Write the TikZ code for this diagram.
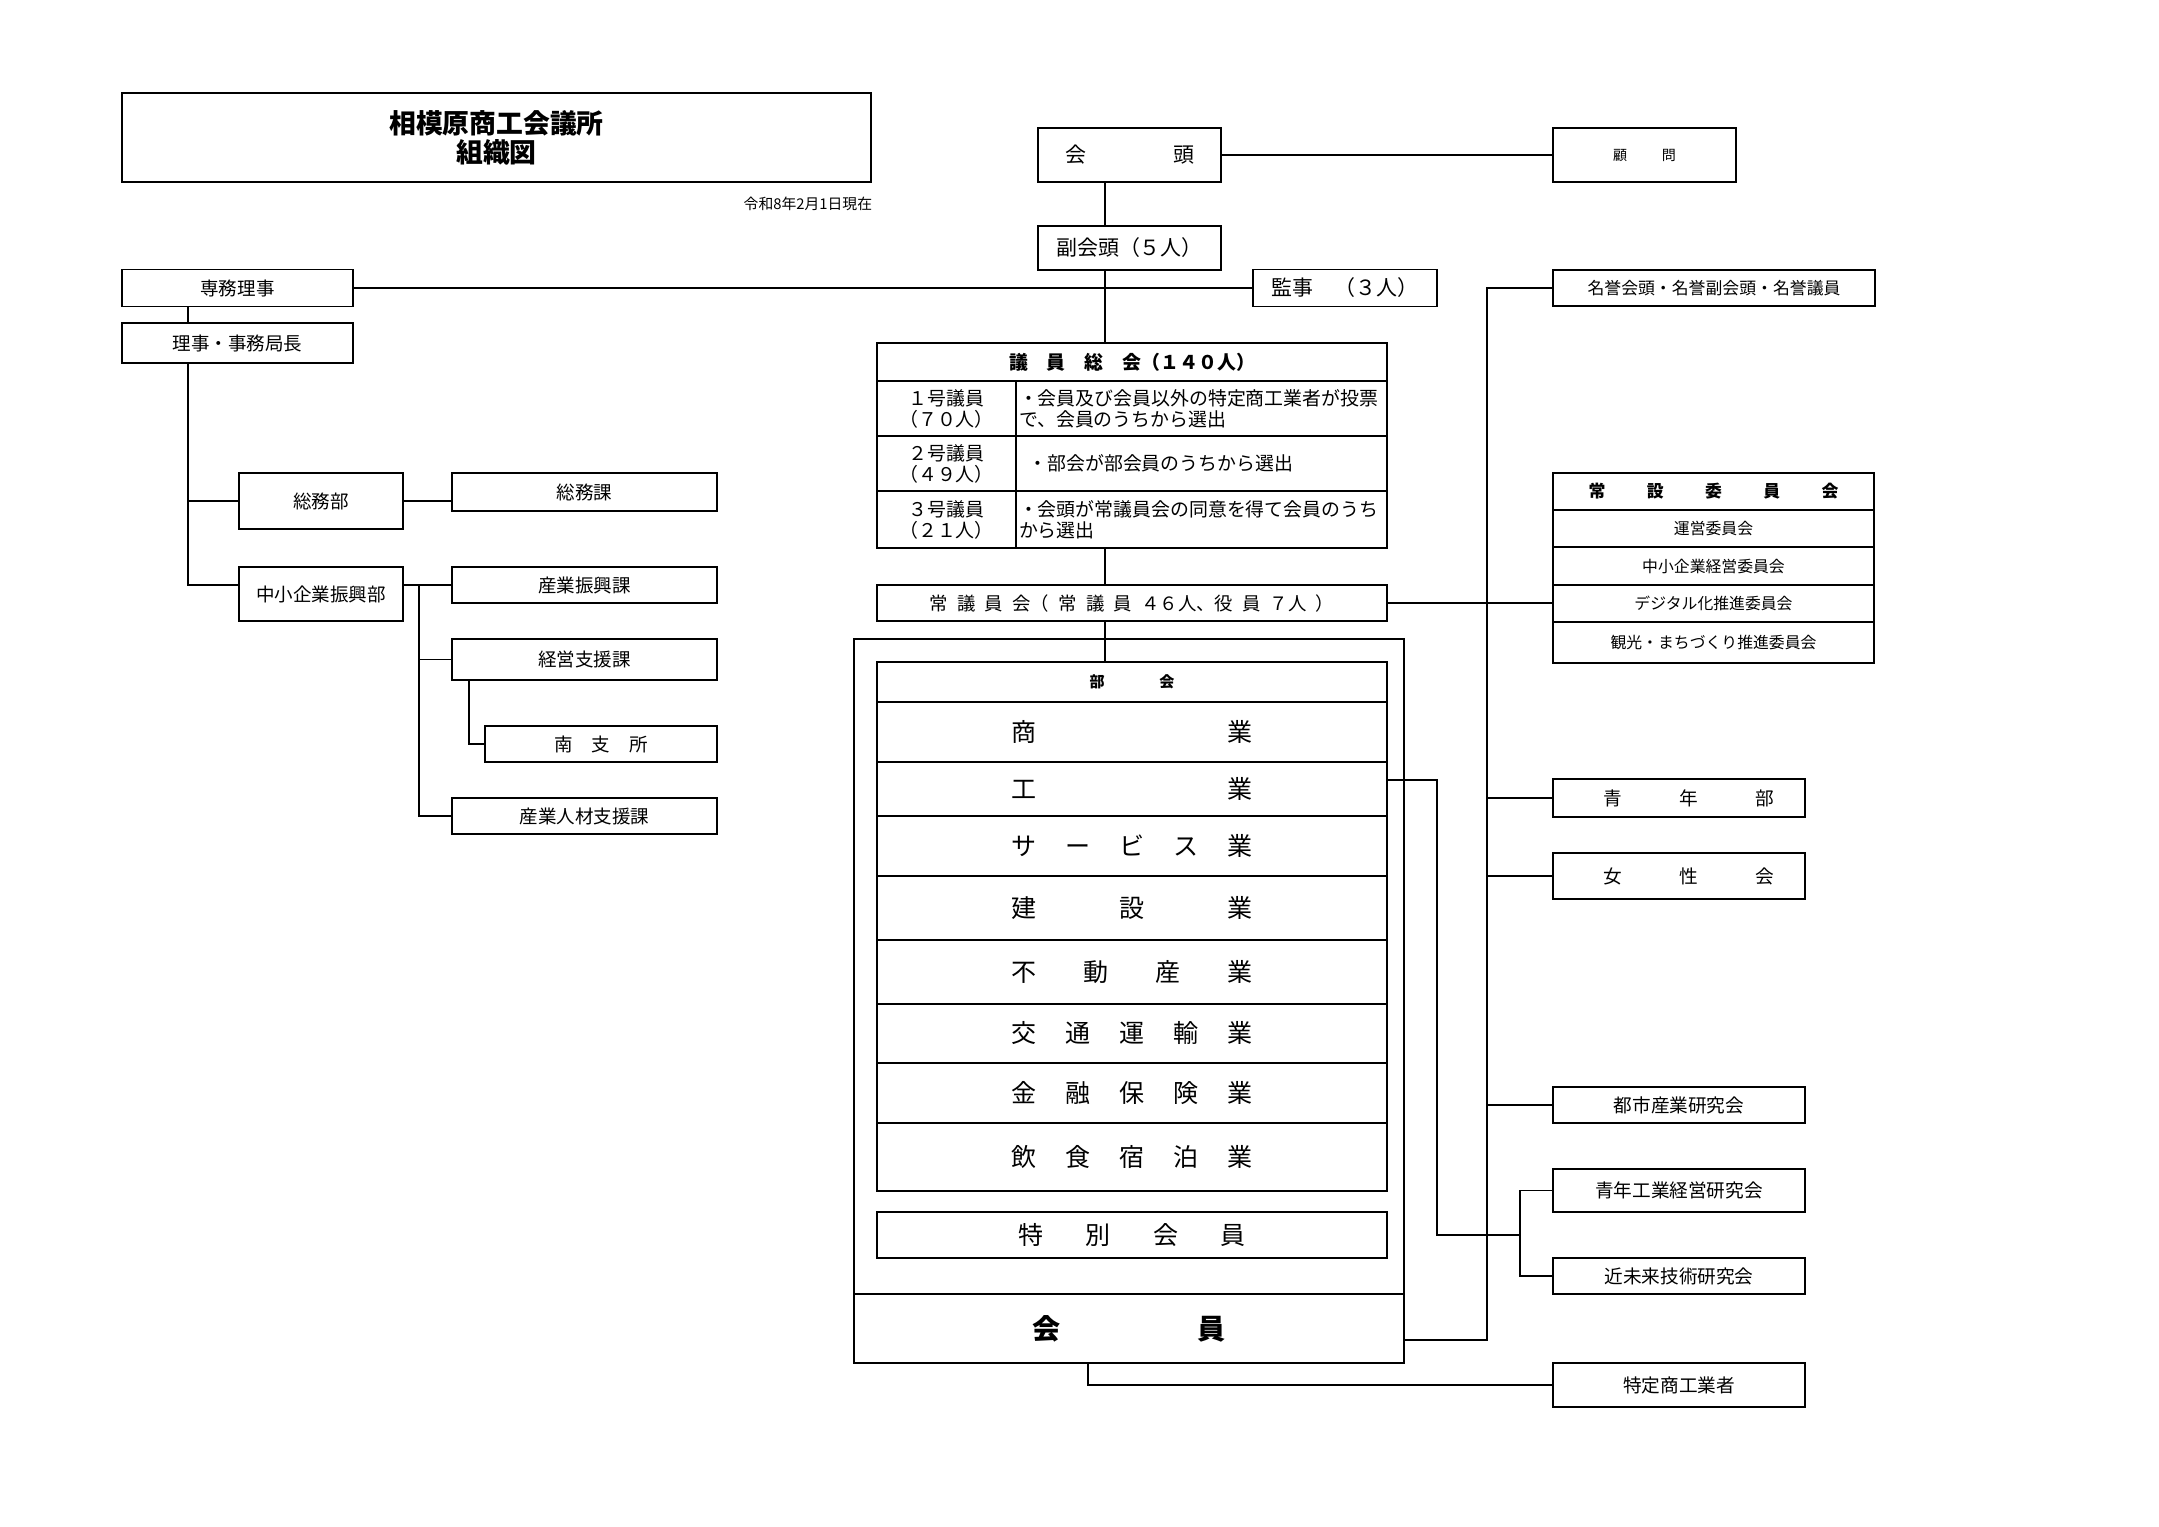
\documentclass[tikz,border=0pt]{standalone}
\usepackage{fontspec}
\setmainfont{Noto Sans CJK JP}
\newlength\unitpx
\setlength\unitpx{0.137564mm}
\newcommand\spreadtext[2]{\makebox[#1\unitpx][s]{#2}}
\newcommand\jsp{\hspace{.5em}}
\begin{document}
\begin{tikzpicture}[x=0.137564mm, y=-0.137564mm, line width=0.7pt,
    box/.style={draw, inner sep=0pt, outer sep=0pt},
    wh/.style 2 args={minimum width=#1*\unitpx, minimum height=#2*\unitpx},
    fs/.style 2 args={font=\fontsize{#1}{#2}\selectfont},
    fsb/.style 2 args={font=\fontsize{#1}{#2}\selectfont\bfseries}]
  \fill[white] (0,0) rectangle (2159,1526);

  % title
  \node[box, line width=1.1pt, wh={749}{89}, fsb={10.5}{11.3}, align=center] (title) at (496.5,137.5) {相模原商工会議所\\組織図};
  \node[fs={5.8}{7}, anchor=east, inner sep=0pt] (date) at (873,204) {令和8年2月1日現在};

  % office
  \node[box, wh={231}{37}, fs={7.25}{9}] (semu) at (237.5,288) {専務理事};
  \node[box, wh={231}{40}, fs={7.25}{9}] (riji) at (237.5,343) {理事・事務局長};
  \node[box, wh={164}{56}, fs={7.25}{9}] (somubu) at (321,501) {総務部};
  \node[box, wh={164}{54}, fs={7.25}{9}] (shinkobu) at (321,594) {中小企業振興部};
  \node[box, wh={265}{38}, fs={7.25}{9}] (somuka) at (584.5,492) {総務課};
  \node[box, wh={265}{36}, fs={7.25}{9}] (sangyo) at (584.5,585) {産業振興課};
  \node[box, wh={265}{41}, fs={7.25}{9}] (keiei) at (584.5,659.5) {経営支援課};
  \node[box, wh={232}{36}, fs={7.25}{9}] (minami) at (601,744) {\spreadtext{94}{南\hfill 支\hfill 所}};
  \node[box, wh={265}{36}, fs={7.25}{9}] (jinzai) at (584.5,816) {産業人材支援課};
  \coordinate (spine) at (188,0);
  \coordinate (branch) at (419,0);
  \coordinate (twig) at (469,0);
  \draw (semu.south -| spine) -- (riji.north -| spine) (riji.south -| spine) |- (shinkobu.west |- sangyo.west) (spine |- somubu.west) -- (somubu.west);
  \draw (somubu.east) -- (somubu.east -| somuka.west);
  \draw (shinkobu.east |- sangyo.west) -- (sangyo.west) (branch |- sangyo.west) |- (jinzai.west) (branch |- keiei.west) -- (keiei.west) (keiei.south -| twig) |- (minami.west);

  % officers
  \node[box, wh={183}{54}, fs={8.2}{10}] (kaito) at (1129.5,155) {\spreadtext{129}{会\hfill 頭}};
  \node[box, wh={183}{54}, fs={5.5}{7}] (komon) at (1644.5,155) {\spreadtext{63}{顧\hfill 問}};
  \node[box, wh={183}{44}, fs={8.2}{10}] (fuku) at (1129.5,248) {副会頭（５人）};
  \node[box, wh={184}{37}, fs={8.2}{10}] (kanji) at (1345,288) {監事　（３人）};
  \node[box, wh={322}{36}, fs={6.6}{8}] (meiyo) at (1714,288) {名誉会頭・名誉副会頭・名誉議員};

  % giin
  \node[box, wh={510}{38}, fsb={7.4}{9}] (giin) at (1132,362) {議　員　総　会（１４０人）};
  \node[box, wh={139}{55}, fs={7.4}{8.2}, align=center] (g1-l) at (946.5,408.5) {１号議員\\（７０人）};
  \node[box, wh={371}{55}, fs={7.4}{8.2}, text width=50.2mm, align=left] (g1-r) at (1201.5,408.5) {・会員及び会員以外の特定商工業者が投票\\で、会員のうちから選出};
  \node[box, wh={139}{55}, fs={7.4}{8.2}, align=center] (g2-l) at (946.5,463.5) {２号議員\\（４９人）};
  \node[box, wh={371}{55}, fs={7.4}{8.2}, text width=50.2mm, align=left] (g2-r) at (1201.5,463.5) {\hspace*{.5em}・部会が部会員のうちから選出};
  \node[box, wh={139}{57}, fs={7.4}{8.2}, align=center] (g3-l) at (946.5,519.5) {３号議員\\（２１人）};
  \node[box, wh={371}{57}, fs={7.4}{8.2}, text width=50.2mm, align=left] (g3-r) at (1201.5,519.5) {・会頭が常議員会の同意を得て会員のうち\\から選出};
  \node[box, wh={510}{36}, fs={7.2}{9}] (joseki) at (1132,603) {常\jsp 議\jsp 員\jsp 会（\jsp 常\jsp 議\jsp 員\jsp ４６人、役\jsp 員\jsp ７人\jsp ）};

  % members
  \node[box, wh={550}{724}] (frame) at (1129,1001) {};
  \node[box, wh={550}{69}, fsb={11}{13}] (kaiin) at (1129,1328.5) {\spreadtext{193}{会\hfill 員}};
  \node[box, wh={510}{40}, fsb={5.9}{7}] (bukai) at (1132,682) {\spreadtext{85}{部\hfill 会}};
  \foreach \nm/\ya/\yb/\txt in {shogyo/702/762/{商\hfill 業}, kogyo/762/816/{工\hfill 業},
      service/816/876/{サ\hfill ー\hfill ビ\hfill ス\hfill 業}, kensetsu/876/940/{建\hfill 設\hfill 業},
      fudosan/940/1004/{不\hfill 動\hfill 産\hfill 業}, kotsu/1004/1063/{交\hfill 通\hfill 運\hfill 輸\hfill 業},
      kinyu/1063/1123/{金\hfill 融\hfill 保\hfill 険\hfill 業}, inshoku/1123/1191/{飲\hfill 食\hfill 宿\hfill 泊\hfill 業}}
    \node[box, minimum width=510*\unitpx, minimum height={(\yb-\ya)*\unitpx}, fs={9.8}{11}] (\nm) at (1132,{(\ya+\yb)/2}) {\spreadtext{242}{\txt}};
  \node[box, wh={510}{46}, fs={9.8}{11}] (tokubetsu) at (1132,1235) {\spreadtext{227}{特\hfill 別\hfill 会\hfill 員}};

  % committees
  \node[box, wh={321}{37}, fsb={6.6}{8}] (joseti) at (1713.5,491.5) {\spreadtext{250}{常\hfill 設\hfill 委\hfill 員\hfill 会}};
  \foreach \nm/\ya/\yb/\txt in {unei/510/547/運営委員会, keieiiin/547/585/中小企業経営委員会,
      digital/585/622/デジタル化推進委員会, kanko/622/663/観光・まちづくり推進委員会}
    \node[box, minimum width=321*\unitpx, minimum height={(\yb-\ya)*\unitpx}, fs={6.2}{8}] (\nm) at (1713.5,{(\ya+\yb)/2}) {\txt};
  \node[box, wh={252}{38}, fs={7.3}{9}] (seinen) at (1679,798) {\hspace*{20\unitpx}\spreadtext{171}{青\hfill 年\hfill 部}};
  \node[box, wh={252}{46}, fs={7.3}{9}] (josei) at (1679,876) {\hspace*{20\unitpx}\spreadtext{171}{女\hfill 性\hfill 会}};
  \node[box, wh={252}{36}, fs={7.3}{9}] (toshi) at (1679,1105) {都市産業研究会};
  \node[box, wh={252}{43}, fs={7.3}{9}] (seinenkogyo) at (1679,1190.5) {青年工業経営研究会};
  \node[box, wh={252}{36}, fs={7.3}{9}] (kinmirai) at (1679,1276) {近未来技術研究会};
  \node[box, wh={252}{44}, fs={7.3}{9}] (tokutei) at (1679,1385) {特定商工業者};

  \coordinate (axis) at (1105,0);
  \coordinate (rail) at (1487,1340);
  \coordinate (fork) at (1520,1235);
  \coordinate (foot) at (1088,1363);
  \draw (kaito.east) -- (komon.west);
  \draw (kaito.south -| axis) -- (fuku.north -| axis) (fuku.south -| axis) -- (giin.north -| axis);
  \draw (semu.east) -- (kanji.west);
  \draw (g3-r.south -| axis) -- (joseki.north -| axis) (joseki.south -| axis) -- (bukai.north -| axis);
  \draw (meiyo.west) -| (rail) -- (rail -| kaiin.east);
  \draw (joseki.east) -- (joseki.east -| digital.west);
  \draw (rail |- seinen.west) -- (seinen.west) (rail |- josei.west) -- (josei.west) (rail |- toshi.west) -- (toshi.west);
  \draw ([yshift=9\unitpx]kogyo.east) -- ++(50,0) |- (fork);
  \draw (seinenkogyo.west) -| (fork) |- (kinmirai.west);
  \draw (foot) |- (tokutei.west);
\end{tikzpicture}
\end{document}
